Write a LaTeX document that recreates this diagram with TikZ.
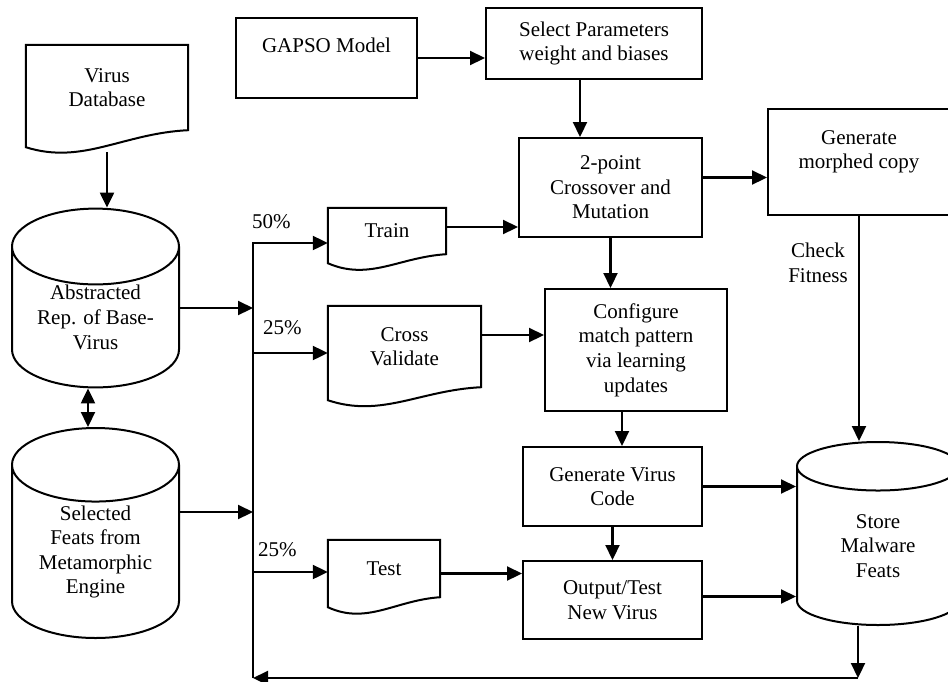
\documentclass[tikz,border=0pt]{standalone}
\usepackage{fontspec}
\setmainfont{Liberation Serif}
\usetikzlibrary{arrows.meta,shapes.geometric,calc}
\tikzstyle{box}=[rectangle, draw, line width=2pt,
                 align=center, inner sep=0pt]
\tikzstyle{docbox}=[rectangle, align=center, inner sep=0pt]
\tikzstyle{dbase}=[cylinder, shape border rotate=90, draw,
                   line width=2pt, aspect=0.65,
                   align=center, inner sep=0pt]
\tikzstyle{outline}=[line width=2pt, line join=miter]
\tikzstyle{arr}=[-{Triangle[length=15pt,width=14pt]}, line width=2.2pt]
\tikzstyle{darr}=[{Triangle[length=15pt,width=14pt]}-{Triangle[length=15pt,width=14pt]},
                  line width=2.2pt]
\tikzstyle{lbl}=[inner sep=0pt, anchor=west]

\begin{document}
\begin{tikzpicture}[x=1pt, y=-1pt, font=\fontsize{21}{24.6}\selectfont]
   \useasboundingbox (0,0) rectangle (948,681);
   \clip (0,0) rectangle (948,681);

   % documents
   \node (vdb)   at (107,87.5)    [docbox, minimum width=162pt, minimum height=85pt] {Virus\\Database};
   \node (train) at (387,231)     [docbox, minimum width=118pt, minimum height=46pt] {Train};
   \node (cval)  at (404.5,346.5) [docbox, minimum width=153pt, minimum height=81pt] {Cross\\Validate};
   \node (test)  at (384,568.5)   [docbox, minimum width=112pt, minimum height=57pt] {Test};
   \foreach \n/\r in {vdb/17,train/9,cval/13,test/10}
     \draw [outline] (\n.south east) -- (\n.north east) -- (\n.north west)
       -- ($(\n.south west)+(0,\r)$)
       .. controls ($(\n.south west)!0.35!(\n.south east)+(0,\r+18)$)
       and ($(\n.south west)!0.6!(\n.south east)+(0,3)$) .. (\n.south east) -- cycle;

   % databases
   \node (abs)  at (95.5,298)  [dbase, anchor=shape center, minimum width=167pt, minimum height=174pt] {Abstracted\\Rep. of Base-\\Virus};
   \node (sel)  at (95.5,533)  [dbase, anchor=shape center, minimum width=167pt, minimum height=210pt] {Selected\\Feats from\\Metamorphic\\Engine};
   \node (malw) at (878,533.5) [dbase, anchor=shape center, minimum width=162pt, minimum height=183pt] {Store\\Malware\\Feats};

   % process boxes
   \node (gapso)  at (326.5,58)   [box, minimum width=181pt, minimum height=80pt]  {GAPSO Model\\\mbox{}};
   \node (selp)   at (594,43.5)   [box, minimum width=216pt, minimum height=71pt]  {Select Parameters\\weight and biases};
   \node (cross)  at (610.5,187.5) [box, minimum width=183pt, minimum height=99pt] {2-point\\Crossover and\\Mutation};
   \node (morph)  at (859,162)    [box, minimum width=182pt, minimum height=106pt] {Generate\\morphed copy\\\mbox{}};
   \node (config) at (636,350)    [box, minimum width=182pt, minimum height=122pt] {Configure\\match pattern\\via learning\\updates};
   \node (gvc)    at (612.5,486.5) [box, minimum width=179pt, minimum height=79pt] {Generate Virus\\Code};
   \node (out)    at (612.5,600)  [box, minimum width=179pt, minimum height=78pt]  {Output/Test\\New Virus};

   % labels
   \node (p50)  at (252,222) [lbl] {50\%};
   \node (p25a) at (263,328) [lbl] {25\%};
   \node (p25b) at (258,550) [lbl] {25\%};
   \node (chk)  at (818,263) [align=center] {Check\\Fitness};

   % split bus
   \coordinate (bt) at (253,243);
   \coordinate (b1) at (253,308);
   \coordinate (b2) at (253,512);
   \coordinate (b3) at (253,353);
   \coordinate (b4) at (253,572);
   \coordinate (bb) at (253,678);
   \coordinate (rb) at (858,678);

   \draw [arr] ([yshift=-22pt]vdb.south) -- (vdb.south |- abs.north);
   \draw [darr] ([xshift=-7.5pt]abs.south) -- ([xshift=-7.5pt]sel.north);
   \draw [arr] (abs.east |- b1) -- (b1);
   \draw [arr] (sel.east |- b2) -- (b2);
   \draw [arr] (bb) -- (bt) -- (bt -| train.west);
   \draw [arr] (b3) -- (b3 -| cval.west);
   \draw [arr] (b4) -- (b4 -| test.west);
   \draw [arr] ([yshift=4pt]train.east) -- ([yshift=4pt]train.east -| cross.west);
   \draw [arr] ([yshift=11.5pt]cval.east) -- ([yshift=11.5pt]cval.east -| config.west);
   \draw [arr] ([yshift=-5pt]test.east) -- ([yshift=-5pt]test.east -| out.west);
   \draw [arr] (gapso.east) -- (gapso.east -| selp.west);
   \draw [arr] ([xshift=-14pt]selp.south) -- ([xshift=-14pt]selp.south |- cross.north);
   \draw [arr] ([yshift=10pt]cross.east) -- ([yshift=10pt]cross.east -| morph.west);
   \draw [arr] (cross.south) -- (cross.south |- config.north);
   \draw [arr] ([xshift=-14pt]config.south) -- ([xshift=-14pt]config.south |- gvc.north);
   \draw [arr] (gvc.south) -- (gvc.south |- out.north);
   \draw [arr] (morph.south) -- (morph.south |- malw.north);
   \draw [arr] (gvc.east) -- (gvc.east -| malw.west);
   \draw [arr] ([yshift=3.5pt]out.east) -- ([yshift=3.5pt]out.east -| malw.west);
   \draw [arr] (rb |- malw.south) -- (rb);
   \draw [arr] (rb) -- (bb);
\end{tikzpicture}
\end{document}
